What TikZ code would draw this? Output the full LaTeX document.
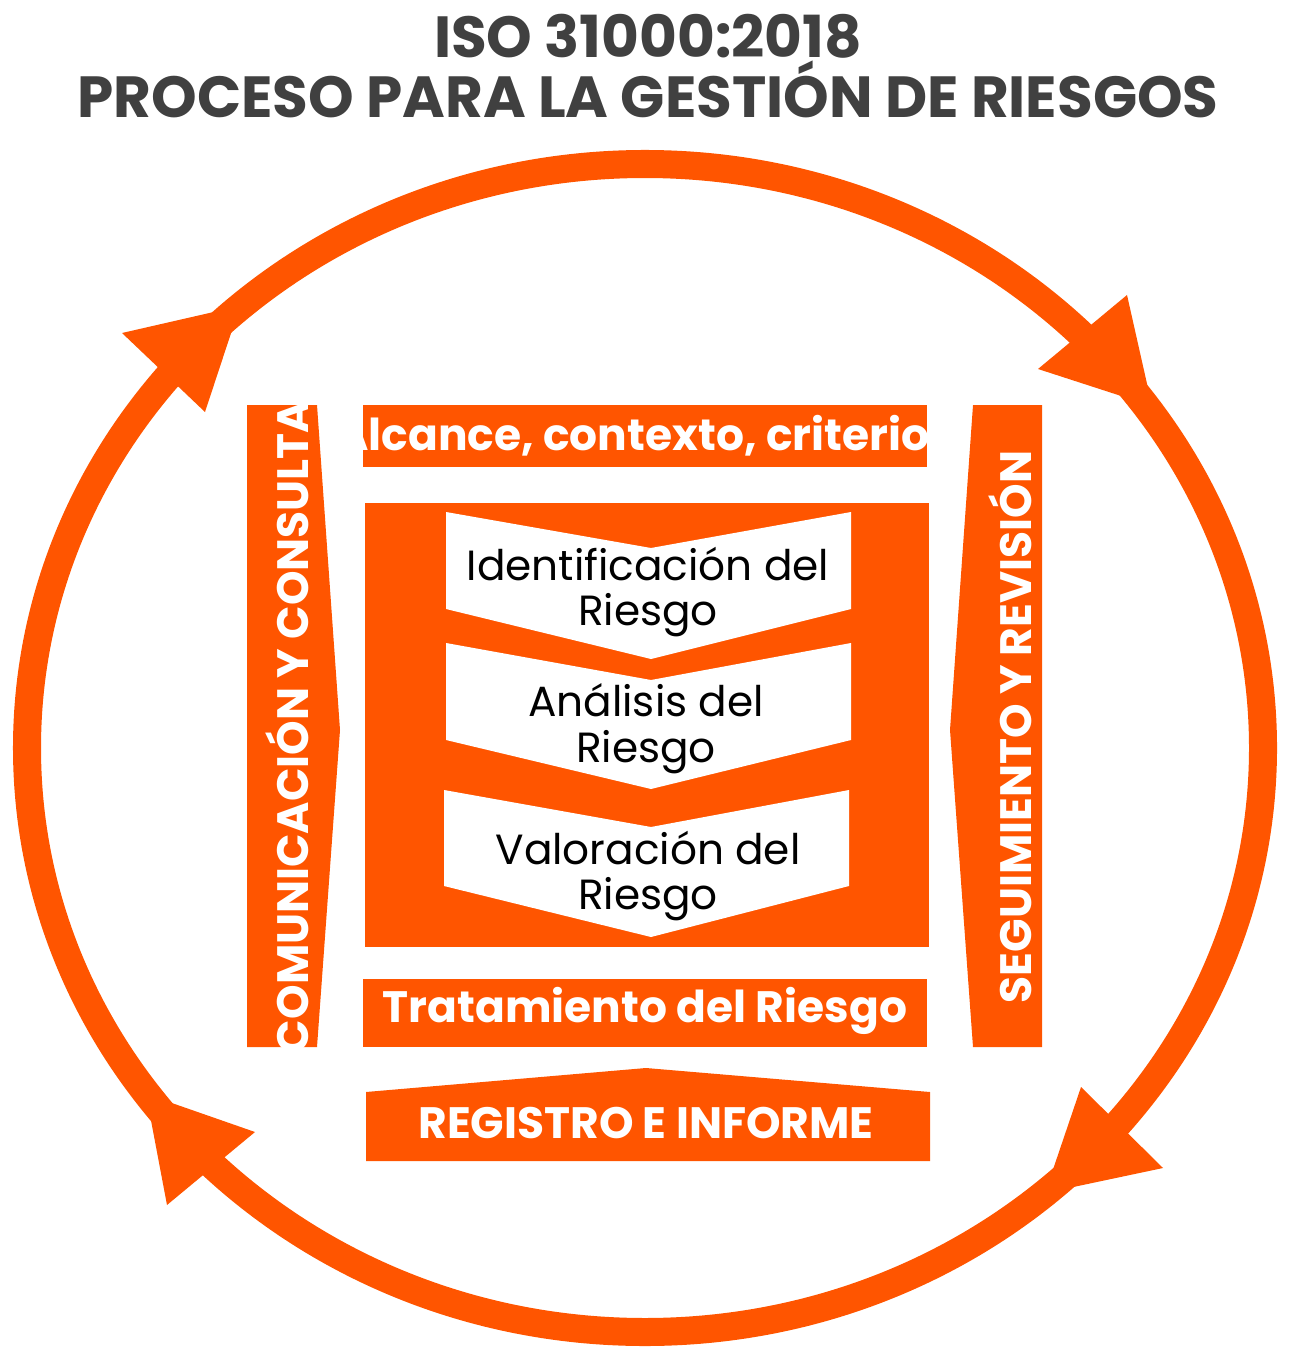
\documentclass[tikz,border=0pt]{standalone}
\usepackage{fontspec}
\setmainfont{Poppins}
\definecolor{naranja}{RGB}{255,85,0}
\definecolor{gris}{RGB}{64,64,64}
\tikzset{
  bloque/.style={fill=naranja, draw=none},
  paso/.style={fill=white, draw=none},
  etiqueta/.style={text=white, font=\bfseries\fontsize{12.5}{14}\selectfont, inner sep=0pt},
  texto/.style={text=black, font=\fontsize{12}{13}\selectfont, align=center, inner sep=0pt},
  punta/.style={fill=naranja, draw=none}
}
\begin{document}
\begin{tikzpicture}[x=0.01cm, y=-0.01cm]
  \useasboundingbox (0,0) rectangle (1291,1349);
  % titulo
  \node[text=gris, font=\bfseries\fontsize{16.5}{18}\selectfont, align=center] (tit) at (648,66)
    {ISO 31000:2018\\[-1pt]PROCESO PARA LA GESTIÓN DE RIESGOS};
  % ciclo
  \draw[naranja, line width=0.28cm] (645,748) ellipse [x radius=618, y radius=584];
  \fill[punta] (122,333) -- (240,306) -- (205,412) -- cycle;
  \fill[punta] (1127,295) -- (1152,406) -- (1038,369) -- cycle;
  \fill[punta] (1163,1168) -- (1045,1193) -- (1081,1087) -- cycle;
  \fill[punta] (167,1205) -- (146,1094) -- (255,1132) -- cycle;
  % columnas laterales
  \fill[bloque] (247,405) -- (317,405) -- (340,730) -- (317,1047) -- (247,1047) -- cycle;
  \node[etiqueta, rotate=90] (com) at (287,727) {COMUNICACIÓN Y CONSULTA};
  \fill[bloque] (973,405) -- (1042,405) -- (1042,1047) -- (973,1047) -- (950,730) -- cycle;
  \node[etiqueta, rotate=90] (seg) at (1010,727) {SEGUIMIENTO Y REVISIÓN};
  % bloques centrales
  \fill[bloque] (363,405) rectangle (927,467);
  \node[etiqueta] (alc) at (645,436) {Alcance, contexto, criterios};
  \fill[bloque] (365,503) rectangle (929,947);
  \fill[paso] (446,512) -- (651,548) -- (851,512) -- (851,609) -- (651,659) -- (446,609) -- cycle;
  \fill[paso] (446,643) -- (651,680) -- (851,643) -- (851,740) -- (651,789) -- (446,740) -- cycle;
  \fill[paso] (444,790) -- (651,827) -- (849,790) -- (849,886) -- (651,937) -- (444,886) -- cycle;
  \node[texto] (ide) at (648,592) {Identificación del\\Riesgo};
  \node[texto] (ana) at (646,729) {Análisis del\\Riesgo};
  \node[texto] (val) at (648,876) {Valoración del\\Riesgo};
  \fill[bloque] (363,979) rectangle (927,1047);
  \node[etiqueta] (tra) at (645,1011) {Tratamiento del Riesgo};
  \fill[bloque] (366,1092) -- (646,1068) -- (930,1092) -- (930,1161) -- (366,1161) -- cycle;
  \node[etiqueta] (reg) at (646,1123) {REGISTRO E INFORME};
\end{tikzpicture}
\end{document}
